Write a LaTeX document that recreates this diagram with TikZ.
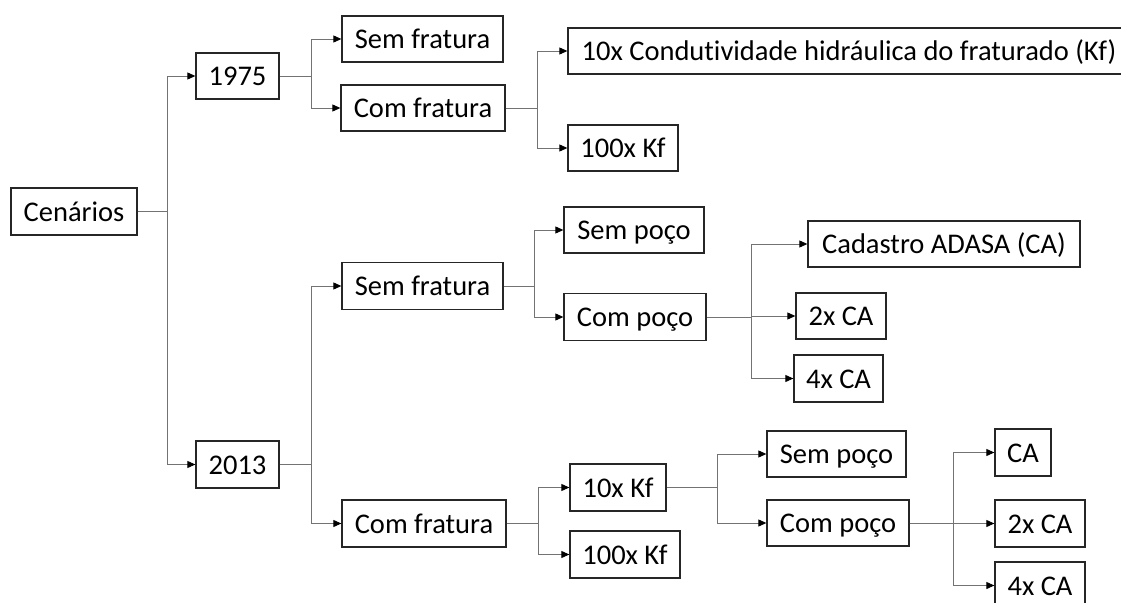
\documentclass[tikz,border=0pt]{standalone}
\usepackage{fontspec}
\setmainfont[Ligatures=NoCommon]{Carlito}
\usetikzlibrary{arrows.meta}
\begin{document}
\begin{tikzpicture}[x=1pt,y=-1pt,
  box/.style={draw=black!85,line width=1.3pt,inner sep=0pt,text height=19.5pt,text depth=0pt,font=\fontsize{28.5}{32}\selectfont},
  link/.style={draw=black!55,line width=0.9pt},
  arr/.style={link,-{Triangle[length=8pt,width=7pt,color=black]}}]
\useasboundingbox (0,0) rectangle (1121,602);
% nodes
\node[box,minimum width=126pt,minimum height=47pt] (cen) at (74,211.5) {Cenários};
\node[box,minimum width=83pt,minimum height=46pt] (y75) at (237.5,76) {1975};
\node[box,minimum width=83pt,minimum height=47pt] (y13) at (237.5,464.5) {2013};
\node[box,minimum width=161pt,minimum height=46pt] (sf1) at (422.5,39) {Sem fratura};
\node[box,minimum width=164pt,minimum height=46pt] (cf1) at (423,108) {Com fratura};
\node[box,minimum width=562pt,minimum height=46pt] (k10a) at (849,51) {10x Condutividade hidráulica do fraturado (Kf)};
\node[box,minimum width=110pt,minimum height=46pt] (k100a) at (623,148) {100x Kf};
\node[box,minimum width=161pt,minimum height=47pt] (sf2) at (422.5,286) {Sem fratura};
\node[box,minimum width=164pt,minimum height=47pt] (cf2) at (424,523.5) {Com fratura};
\node[box,minimum width=140pt,minimum height=46pt] (sp1) at (634,230) {Sem poço};
\node[box,minimum width=142pt,minimum height=47pt] (cp1) at (635,317) {Com poço};
\node[box,minimum width=272pt,minimum height=46pt] (cad) at (944,244) {Cadastro ADASA (CA)};
\node[box,minimum width=90pt,minimum height=46pt] (ca2a) at (841,316) {2x CA};
\node[box,minimum width=89pt,minimum height=47pt] (ca4a) at (838.5,378.5) {4x CA};
\node[box,minimum width=96pt,minimum height=47pt] (k10b) at (618,487.5) {10x Kf};
\node[box,minimum width=110pt,minimum height=47pt] (k100b) at (625,554.5) {100x Kf};
\node[box,minimum width=139pt,minimum height=46pt] (sp2) at (836.5,454) {Sem poço};
\node[box,minimum width=142pt,minimum height=46pt] (cp2) at (838,523) {Com poço};
\node[box,minimum width=56pt,minimum height=47pt] (ca1) at (1023,452.5) {CA};
\node[box,minimum width=90pt,minimum height=47pt] (ca2b) at (1040,523.5) {2x CA};
\node[box,minimum width=90pt,minimum height=47pt] (ca4b) at (1040,585.5) {4x CA};
% split points
\coordinate (s0) at (167,211.5);
\coordinate (s75) at (311,76);
\coordinate (s13) at (311,464.5);
\coordinate (scf1) at (537,108);
\coordinate (ssf2) at (534,286);
\coordinate (scp1) at (751,317);
\coordinate (scf2) at (538,523.5);
\coordinate (sk10) at (717,487.5);
\coordinate (scp2) at (953,523);
% connectors
\draw[link] (cen.east) -- (s0);
\draw[arr] (s0) |- (y75.west);
\draw[arr] (s0) |- (y13.west);
\draw[link] (y75.east) -- (s75);
\draw[arr] (s75) |- (sf1.west);
\draw[arr] (s75) |- (cf1.west);
\draw[link] (cf1.east) -- (scf1);
\draw[arr] (scf1) |- (k10a.west);
\draw[arr] (scf1) |- (k100a.west);
\draw[link] (y13.east) -- (s13);
\draw[arr] (s13) |- (sf2.west);
\draw[arr] (s13) |- (cf2.west);
\draw[link] (sf2.east) -- (ssf2);
\draw[arr] (ssf2) |- (sp1.west);
\draw[arr] (ssf2) |- (cp1.west);
\draw[link] (cp1.east) -- (scp1);
\draw[arr] (scp1) |- (cad.west);
\draw[arr] (scp1) |- (ca2a.west);
\draw[arr] (scp1) |- (ca4a.west);
\draw[link] (cf2.east) -- (scf2);
\draw[arr] (scf2) |- (k10b.west);
\draw[arr] (scf2) |- (k100b.west);
\draw[link] (k10b.east) -- (sk10);
\draw[arr] (sk10) |- (sp2.west);
\draw[arr] (sk10) |- (cp2.west);
\draw[link] (cp2.east) -- (scp2);
\draw[arr] (scp2) |- (ca1.west);
\draw[arr] (scp2) |- (ca2b.west);
\draw[arr] (scp2) |- (ca4b.west);
\end{tikzpicture}
\end{document}
